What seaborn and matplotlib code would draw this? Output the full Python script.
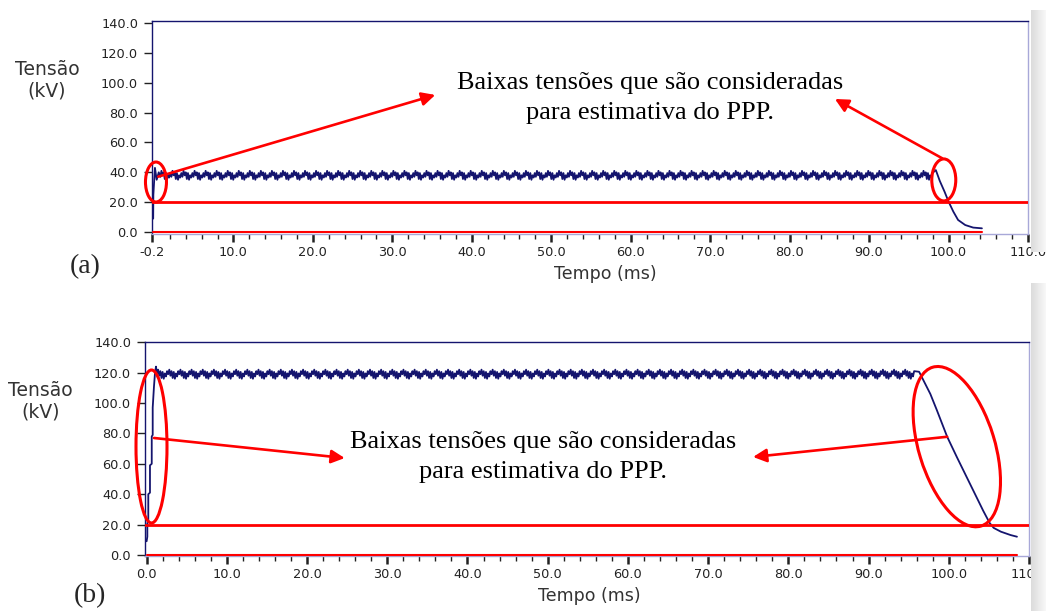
import numpy as np
import pandas as pd
import matplotlib
matplotlib.use("Agg")
import matplotlib.pyplot as plt
import matplotlib.transforms as mtransforms
from matplotlib.patches import Ellipse
import seaborn as sns

# ---------------- dados ----------------
# (a) tensao ~40 kV
inicio_t_a = [-0.1, -0.08, 0.12, 0.34, 0.6]
inicio_v_a = [9.0, 25.0, 43.0, 35.0, 40.0]
ripple_ciclo_a = [37.0, 41.0, 38.0, 40.0, 35.5, 39.5, 35.0, 38.0, 36.5, 39.5]   # um periodo (kV)
ripple_periodo_a = 1.39      # ms
ripple_n_a = 70              # numero de ciclos
ripple_t0_a = 0.8
queda_t_a = [98.4, 98.9, 99.5, 100.0, 100.6, 101.2, 102.1, 103.1, 104.2]
queda_v_a = [41.5, 34.2, 27.0, 20.4, 13.7, 8.1, 4.7, 3.0, 2.5]
zero_t_a = [-0.1, 104.2]
zero_v_a = [0.0, 0.0]

# (b) tensao ~120 kV
inicio_t_b = [0.0, 0.09, 0.09, 0.21, 0.21, 0.42, 0.42, 0.64, 0.64, 0.76, 0.76, 0.92, 1.05, 1.17]
inicio_v_b = [9.0, 12.0, 21.0, 22.0, 40.0, 41.0, 59.0, 60.0, 78.0, 79.0, 97.0, 111.0, 120.0, 124.0]
ripple_ciclo_b = [119.0, 122.0, 118.0, 121.0, 116.5, 120.5, 116.0, 119.5, 117.5, 121.0]
ripple_periodo_b = 1.39
ripple_n_b = 68
ripple_t0_b = 1.3
queda_t_b = [96.3, 97.7, 98.5, 99.8, 101.0, 102.3, 103.5, 104.3, 105.1, 105.6, 106.5, 107.7, 108.5]
queda_v_b = [120.6, 106.0, 95.5, 77.8, 64.5, 50.5, 37.5, 29.0, 21.0, 17.8, 15.3, 13.1, 12.0]
zero_t_b = [0.0, 108.5]
zero_v_b = [0.0, 0.0]

limiar_kv = 20.0
yticks = [0, 20, 40, 60, 80, 100, 120, 140]
xticks_a = [-0.2, 10, 20, 30, 40, 50, 60, 70, 80, 90, 100, 110]
xticks_b = [0, 10, 20, 30, 40, 50, 60, 70, 80, 90, 100, 110]
texto = "Baixas tensões que são consideradas\npara estimativa do PPP."


def monta_serie(t_ini, v_ini, ciclo, periodo, n, t0, t_fim, v_fim):
    passo = periodo / len(ciclo)
    t_rip = t0 + np.arange(n * len(ciclo)) * passo
    v_rip = np.tile(ciclo, n)
    t = np.concatenate([t_ini, t_rip, t_fim])
    v = np.concatenate([v_ini, v_rip, v_fim])
    return pd.DataFrame({"t": t, "v": v})


df_a = monta_serie(inicio_t_a, inicio_v_a, ripple_ciclo_a, ripple_periodo_a,
                   ripple_n_a, ripple_t0_a, queda_t_a, queda_v_a)
df_b = monta_serie(inicio_t_b, inicio_v_b, ripple_ciclo_b, ripple_periodo_b,
                   ripple_n_b, ripple_t0_b, queda_t_b, queda_v_b)

# ---------------- figura ----------------
sns.set_style("white")
plt.rcParams["font.family"] = ["DejaVu Sans"]

fig = plt.figure(figsize=(10.46, 6.11), dpi=100)
ax_a = fig.add_axes([152 / 1046, 1 - 234 / 611, 876 / 1046, 213 / 611])
ax_b = fig.add_axes([145 / 1046, 1 - 556 / 611, 884 / 1046, 214 / 611])

navy = "#14146e"
lavanda = "#a8a8d8"


def estilo(ax, xticks, xlim, ylim, lab_xy, tempo_xy):
    ax.set_xlim(*xlim)
    ax.set_ylim(*ylim)
    ax.set_yticks(yticks)
    ax.set_yticklabels([f"{y:.1f}" for y in yticks])
    ax.set_xticks(xticks)
    ax.set_xticklabels([f"{x:.1f}" for x in xticks])
    menores = [m for m in range(2, 110, 2) if m % 10 != 0]
    ax.set_xticks(menores, minor=True)
    ax.tick_params(axis="y", direction="out", length=6, width=1, color="#222222",
                   labelsize=9.3, labelcolor="#222222", pad=4, left=True)
    ax.tick_params(axis="x", which="major", direction="out", length=6, width=1.8,
                   color="#222222", labelsize=9.3, labelcolor="#222222", pad=3, bottom=True)
    ax.tick_params(axis="x", which="minor", direction="out", length=3.5, width=1,
                   color="#222222", bottom=True)
    for lado in ["left", "top"]:
        ax.spines[lado].set_color(navy)
    for lado in ["right", "bottom"]:
        ax.spines[lado].set_color(lavanda)
    for s in ax.spines.values():
        s.set_linewidth(1.0)
    ax.set_ylabel("Tensão\n(kV)", rotation=0, fontsize=13.5, color="#333333",
                  ha="center", va="center")
    ax.yaxis.set_label_coords(*lab_xy)
    ax.set_xlabel("Tempo (ms)", fontsize=12.5, color="#333333", va="center")
    ax.xaxis.set_label_coords(*tempo_xy)


def elipse(ax, t, v, w_px, h_px, ang=0):
    tr = fig.dpi_scale_trans + mtransforms.ScaledTranslation(t, v, ax.transData)
    ax.add_patch(Ellipse((0, 0), w_px / 100, h_px / 100, angle=ang, transform=tr,
                         fill=False, ec="red", lw=2.2, clip_on=False, zorder=6))


def seta(ax, ini, fim):
    ax.annotate("", xy=fim, xytext=ini, annotation_clip=False,
                arrowprops=dict(arrowstyle="-|>", color="red", lw=1.9,
                                mutation_scale=20, shrinkA=0, shrinkB=0), zorder=7)


for ax, df, zt, zv, xt, xl, yl, labxy, tempoxy in [
    (ax_a, df_a, zero_t_a, zero_v_a, xticks_a, (-0.25, 110), (-1.3, 141.3),
     (-0.12, 0.723), (0.517, -0.19)),
    (ax_b, df_b, zero_t_b, zero_v_b, xticks_b, (-0.2, 110), (-0.7, 140.2),
     (-0.118, 0.724), (0.503, -0.187)),
]:
    sns.lineplot(data=df, x="t", y="v", ax=ax, color=navy, lw=1.3,
                 estimator=None, sort=False, zorder=3)
    ax.axhline(limiar_kv, color="red", lw=2.0, zorder=4)
    ax.plot(zt, zv, color="red", lw=1.5, zorder=4, clip_on=False)
    estilo(ax, xt, xl, yl, labxy, tempoxy)

# anotacoes (a)
elipse(ax_a, 0.25, 33.5, 21, 40)
elipse(ax_a, 99.4, 34.9, 24, 42)
seta(ax_a, (0.54, 37.1), (35.4, 91.8))
seta(ax_a, (99.2, 49.4), (85.7, 89.1))
ax_a.text(62.4, 89.7, texto, ha="center", va="center", fontsize=19,
          family="Liberation Serif", linespacing=1.45, color="black")
ax_a.text(-0.0765, -0.155, "(a)", transform=ax_a.transAxes, ha="center", va="center",
          fontsize=20, family="Liberation Serif")

# anotacoes (b)
elipse(ax_b, 0.61, 71.4, 31, 153)
elipse(ax_b, 101.0, 71.3, 76, 166, ang=17)
seta(ax_b, (0.92, 77.0), (24.7, 63.8))
seta(ax_b, (99.8, 77.8), (75.6, 64.5))
ax_b.text(49.4, 64.5, texto, ha="center", va="center", fontsize=19,
          family="Liberation Serif", linespacing=1.45, color="black")
ax_b.text(-0.062, -0.187, "(b)", transform=ax_b.transAxes, ha="center", va="center",
          fontsize=20, family="Liberation Serif")

# faixa cinza a direita (borda da captura de tela)
grad = np.linspace(0.86, 0.97, 16)[None, :]
for y0, y1 in [(10, 252), (283, 611)]:
    fx = fig.add_axes([1031 / 1046, 1 - y1 / 611, 15 / 1046, (y1 - y0) / 611])
    fx.imshow(grad, cmap="gray", vmin=0, vmax=1, aspect="auto")
    fx.axis("off")

fig.savefig("out.png", dpi=100)
